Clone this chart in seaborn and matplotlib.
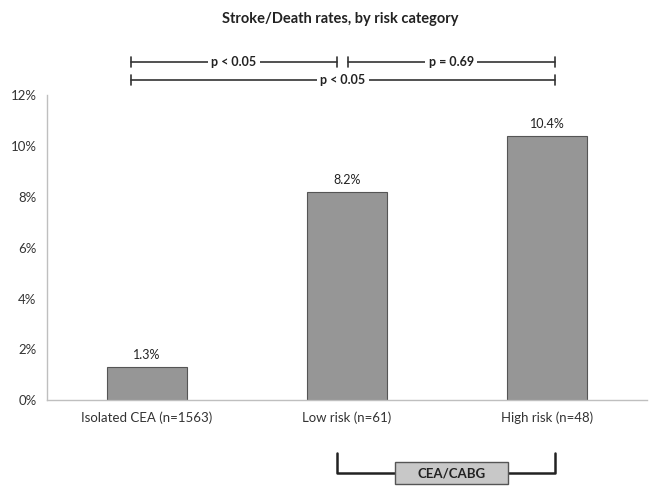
import seaborn as sns
import matplotlib.pyplot as plt
from matplotlib.patches import Rectangle
from matplotlib.ticker import PercentFormatter

categories = ["Isolated CEA (n=1563)", "Low risk (n=61)", "High risk (n=48)"]
rates = [1.3, 8.2, 10.4]
value_labels = ["1.3%", "8.2%", "10.4%"]
p_labels = ["p < 0.05", "p = 0.69", "p < 0.05"]

sns.set_style("white")
plt.rcParams['font.family'] = ['Lato', 'DejaVu Sans']

fig = plt.figure(figsize=(6.54, 4.94), dpi=100)
ax = fig.add_axes([0.072, 0.190, 0.917, 0.617])

sns.barplot(x=categories, y=rates, color="#969696", edgecolor="#555555",
            linewidth=0.8, width=0.4, saturation=1, ax=ax)

for bar, label in zip(ax.patches, value_labels):
    ax.text(bar.get_x() + bar.get_width() / 2, bar.get_height() + 0.25, label,
            ha='center', va='bottom', fontsize=9, color='#222222')

ax.set_ylim(0, 12)
ax.set_xlim(-0.5, 2.5)
ax.set_yticks(range(0, 13, 2))
ax.yaxis.set_major_formatter(PercentFormatter(decimals=0))
ax.tick_params(axis='y', labelsize=9.5, colors='#333333', length=4, color='#bfbfbf', direction='out')
ax.tick_params(axis='x', which='major', labelsize=9.5, colors='#333333', length=0, pad=8)
ax.set_xticks([0.5, 1.5], minor=True)
ax.tick_params(axis='x', which='minor', length=4, color='#bfbfbf', direction='out')
for s in ['top', 'right']:
    ax.spines[s].set_visible(False)
for s in ['left', 'bottom']:
    ax.spines[s].set_color('#bfbfbf')
    ax.spines[s].set_linewidth(1)
ax.set_xlabel('')
ax.set_ylabel('')

fig.suptitle("Stroke/Death rates, by risk category", fontsize=10.5, fontweight='bold',
             y=0.975, x=0.52, color='#222222')

# significance brackets
def bracket(x0, x1, y, label):
    ax.plot([x0, x1], [y, y], color='#333333', lw=1.2, clip_on=False)
    for xx in (x0, x1):
        ax.plot([xx, xx], [y - 0.2, y + 0.2], color='#333333', lw=1.2, clip_on=False)
    ax.text((x0 + x1) / 2, y, label, ha='center', va='center', fontsize=9,
            fontweight='bold', color='#222222',
            bbox=dict(facecolor='white', edgecolor='none', pad=2.5), clip_on=False)

bracket(-0.08, 0.95, 13.3, p_labels[0])
bracket(1.005, 2.04, 13.3, p_labels[1])
bracket(-0.08, 2.04, 12.6, p_labels[2])

# CEA/CABG group bracket
ax.plot([0.95, 0.95, 2.04, 2.04], [-2.08, -2.87, -2.87, -2.08], color='#222222',
        lw=1.8, clip_on=False)
ax.add_patch(Rectangle((1.24, -3.30), 0.565, 0.88, facecolor='#c8c8c8',
                       edgecolor='#555555', lw=1, clip_on=False, zorder=3))
ax.text(1.5225, -2.87, "CEA/CABG", ha='center', va='center', fontsize=9.5,
        fontweight='bold', color='#222222', clip_on=False, zorder=4)

fig.savefig("out.png", dpi=100)
